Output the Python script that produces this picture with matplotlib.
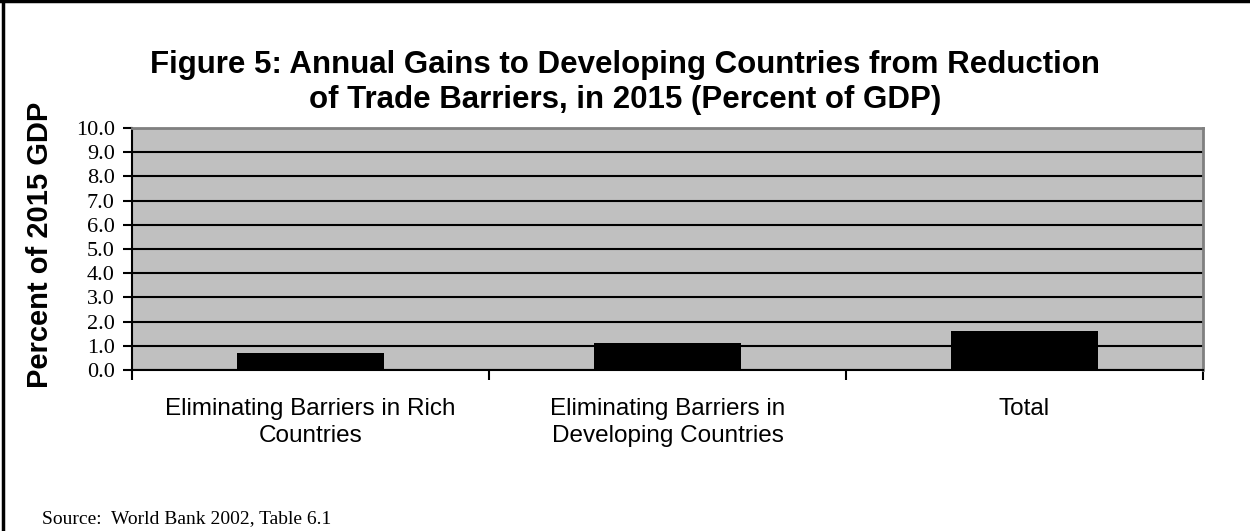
import matplotlib
matplotlib.use("Agg")
import matplotlib.pyplot as plt
from matplotlib.lines import Line2D
import numpy as np

categories = ["Eliminating Barriers in Rich\nCountries",
              "Eliminating Barriers in\nDeveloping Countries",
              "Total"]
values = [0.7, 1.1, 1.6]
yticks = [0.0, 1.0, 2.0, 3.0, 4.0, 5.0, 6.0, 7.0, 8.0, 9.0, 10.0]

fig = plt.figure(figsize=(12.5, 5.31), dpi=100)
ax = fig.add_axes([0.1056, 0.3032, 0.8568, 0.4558])

x = np.arange(len(categories))
ax.set_facecolor("#c0c0c0")
ax.bar(x, values, width=0.41, color="black", zorder=3)

ax.set_xlim(-0.5, len(categories) - 0.5)
ax.set_ylim(0, 10)
ax.set_yticks(yticks)
ax.set_yticklabels(["%.1f" % v for v in yticks], fontfamily="Liberation Serif", fontsize=16)
ax.yaxis.grid(True, color="black", linewidth=1.5, zorder=1)
ax.set_axisbelow(True)

ax.set_xticks(np.arange(-0.5, len(categories), 1.0))
ax.set_xticklabels([])
ax.set_xticks(x, minor=True)
ax.set_xticklabels(categories, minor=True, fontfamily="Liberation Sans", fontsize=17.5, linespacing=1.3)
ax.tick_params(axis="x", which="minor", length=0, pad=20)
ax.tick_params(axis="x", which="major", length=7, width=1.5, direction="out")
ax.tick_params(axis="y", length=6.5, width=1.5, direction="out", pad=6)

for s in ["top", "right"]:
    ax.spines[s].set_color("#808080")
    ax.spines[s].set_linewidth(2)
for s in ["left", "bottom"]:
    ax.spines[s].set_color("black")
    ax.spines[s].set_linewidth(1.5)

fig.text(0.5, 0.845, "Figure 5: Annual Gains to Developing Countries from Reduction\nof Trade Barriers, in 2015 (Percent of GDP)",
         ha="center", va="center", fontfamily="Liberation Sans", fontweight="bold",
         fontsize=22.5, linespacing=1.22)
fig.text(0.032, 0.539, "Percent of 2015 GDP", rotation=90, ha="center", va="center",
         fontfamily="Liberation Sans", fontweight="bold", fontsize=21)
fig.text(0.034, 0.024, "Source:  World Bank 2002, Table 6.1", ha="left", va="center",
         fontfamily="Liberation Serif", fontsize=14)

fig.add_artist(Line2D([0.002, 0.002], [0, 0.998], color="black", linewidth=2.5, transform=fig.transFigure))
fig.add_artist(Line2D([0, 1], [0.998, 0.998], color="black", linewidth=2.5, transform=fig.transFigure))

fig.savefig("out.png", dpi=100)
